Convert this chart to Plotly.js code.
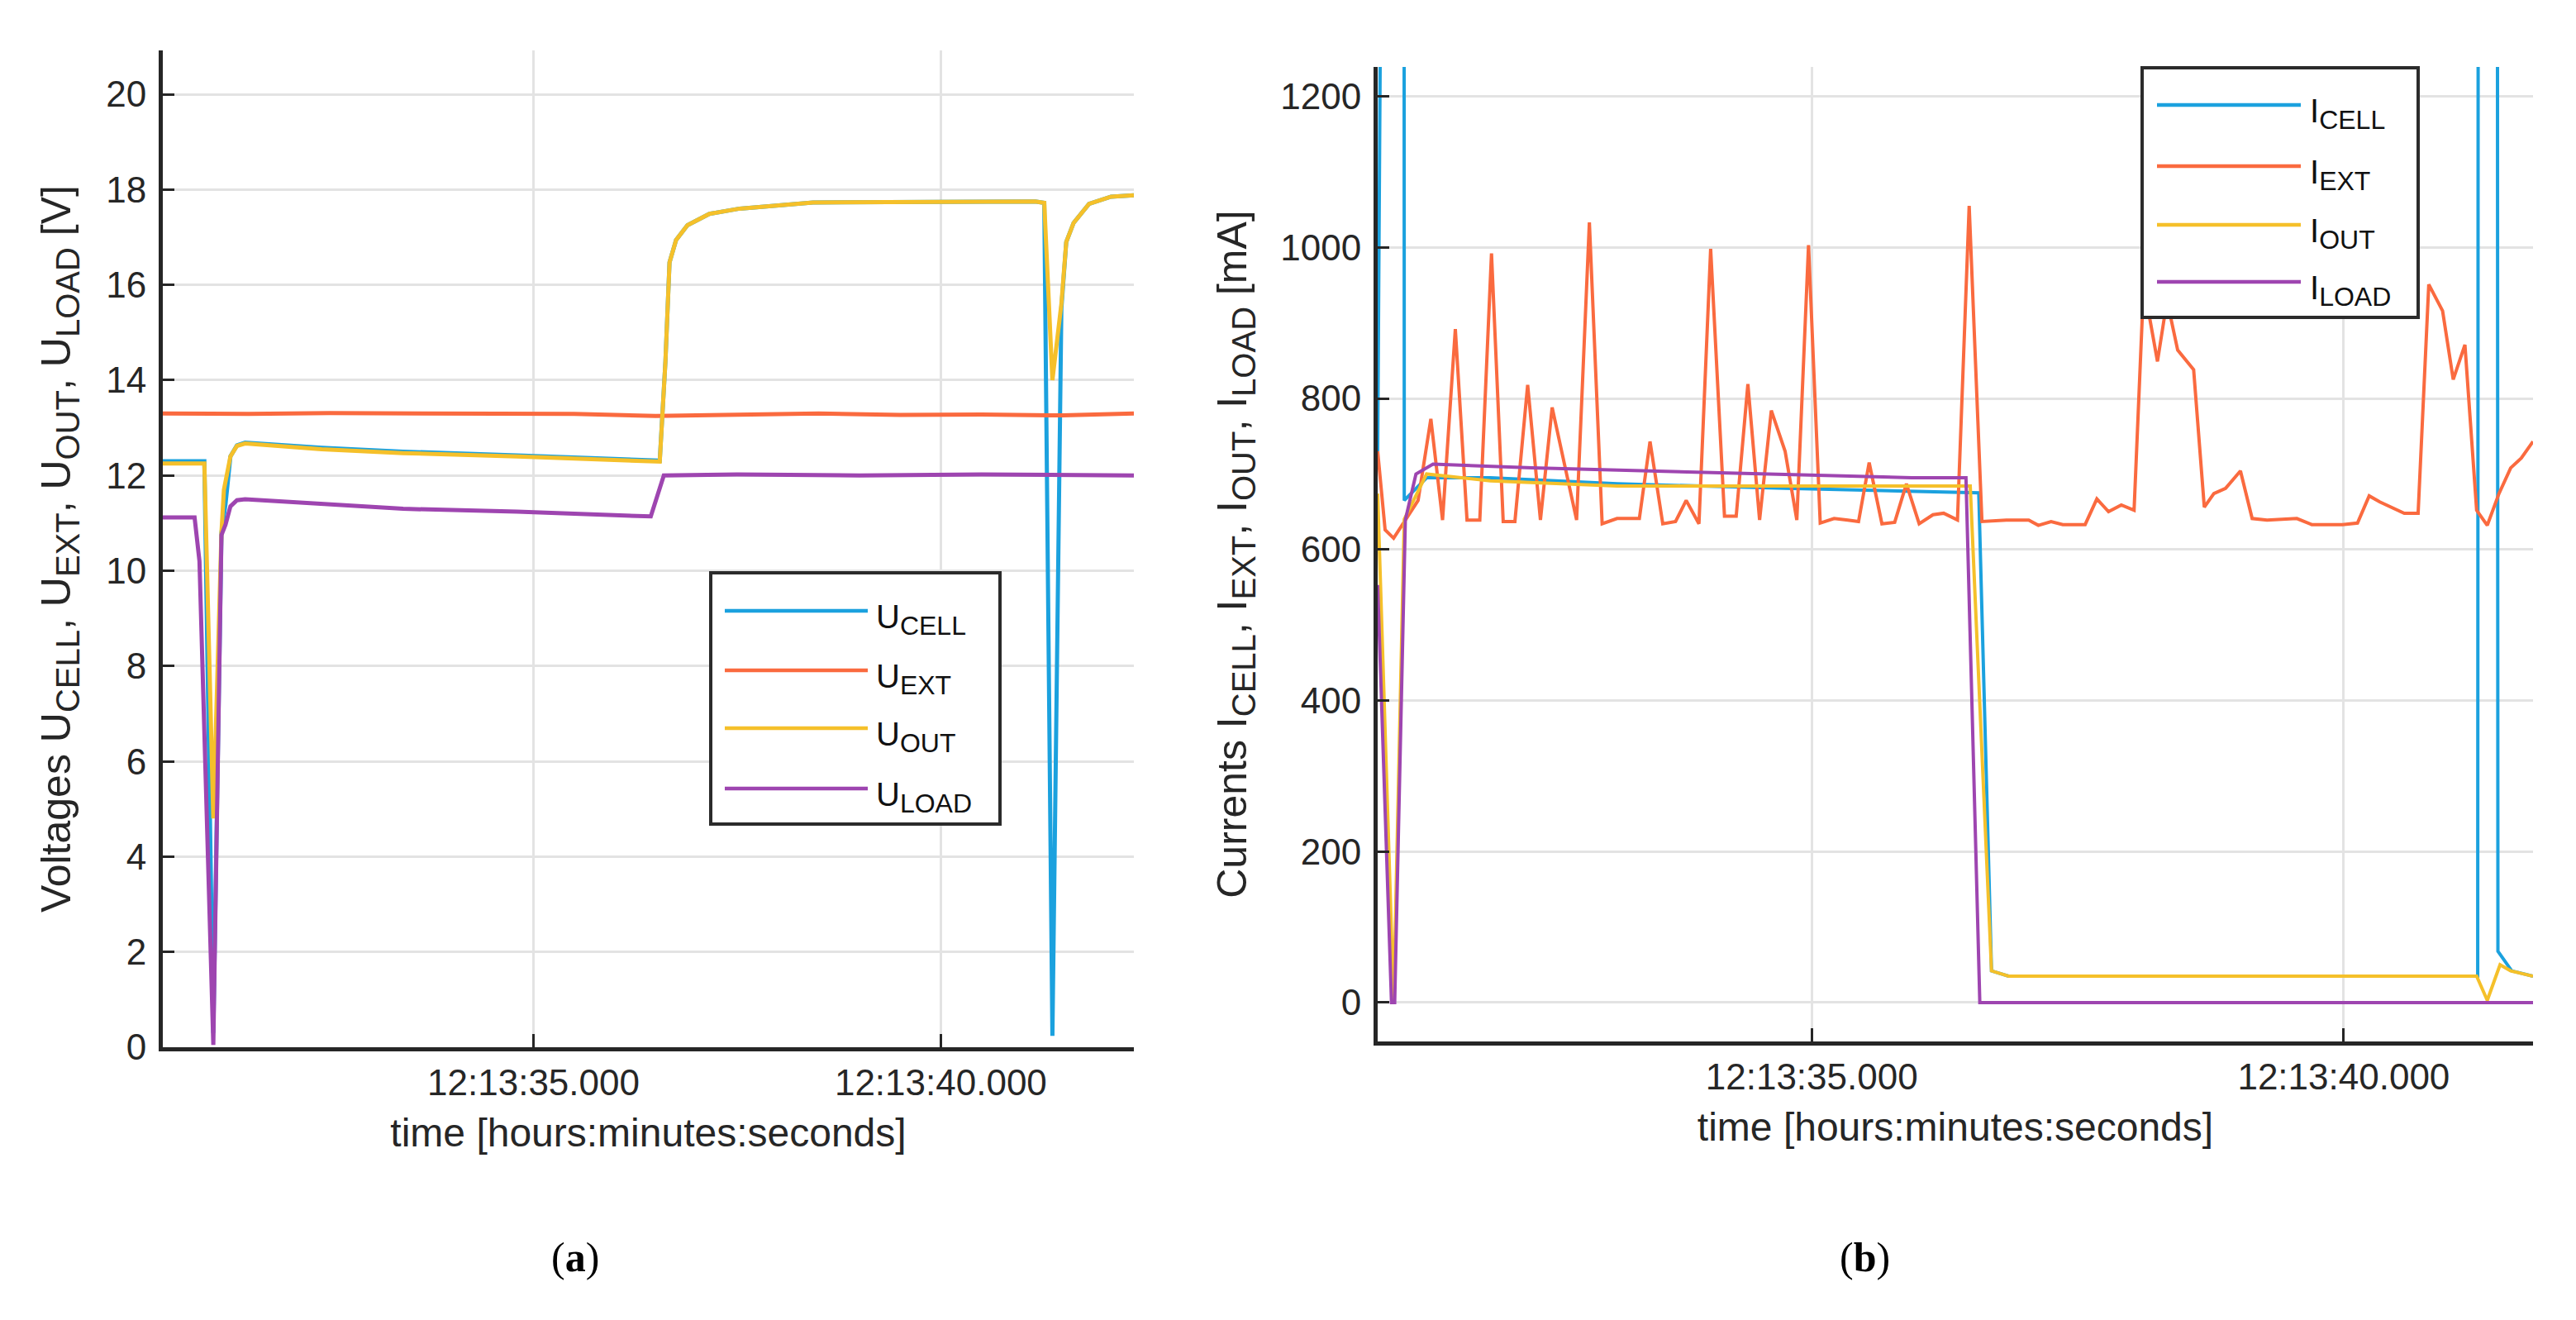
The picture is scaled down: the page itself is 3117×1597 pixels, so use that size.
<!DOCTYPE html>
<html>
<head>
<meta charset="utf-8">
<script src="https://cdn.plot.ly/plotly-3.0.1.min.js"></script>
<style>
html,body{margin:0;padding:0;background:#ffffff;}
#chart{width:3117px;height:1597px;}
</style>
</head>
<body>
<div id="chart"></div>
<script>
// ---------- (a) voltages, time in seconds after 12:13:00 ----------
const uCellT = [30.45, 30.96, 31.07, 31.17, 31.22, 31.28, 31.36, 31.46, 32.40, 33.40, 34.80, 35.80, 36.55, 36.62, 36.67, 36.75, 36.89, 37.16, 37.53, 38.43, 39.80, 41.16, 41.27, 41.37, 41.48, 41.54, 41.63, 41.82, 42.09, 42.37];
const uCellV = [12.30, 12.30, 0.30, 10.80, 11.40, 12.40, 12.63, 12.69, 12.58, 12.50, 12.42, 12.36, 12.31, 14.40, 16.47, 16.94, 17.25, 17.49, 17.60, 17.73, 17.75, 17.75, 17.72, 0.24, 15.50, 16.90, 17.30, 17.70, 17.85, 17.88];

const uExtT = [30.45, 31.50, 32.50, 33.50, 34.50, 35.50, 36.50, 37.50, 38.50, 39.50, 40.50, 41.50, 42.37];
const uExtV = [13.30, 13.29, 13.31, 13.30, 13.28, 13.29, 13.25, 13.28, 13.30, 13.27, 13.28, 13.26, 13.30];

const uOutT = [30.45, 30.96, 31.07, 31.17, 31.20, 31.28, 31.36, 31.46, 32.40, 33.40, 34.80, 35.80, 36.55, 36.62, 36.67, 36.75, 36.89, 37.16, 37.53, 38.43, 39.80, 41.16, 41.27, 41.37, 41.48, 41.54, 41.63, 41.82, 42.09, 42.37];
const uOutV = [12.25, 12.25, 4.80, 10.80, 11.70, 12.40, 12.62, 12.67, 12.55, 12.47, 12.40, 12.34, 12.29, 14.40, 16.47, 16.94, 17.25, 17.49, 17.60, 17.73, 17.75, 17.75, 17.72, 14.00, 15.60, 16.90, 17.30, 17.70, 17.85, 17.88];

const uLoadT = [30.45, 30.84, 30.90, 31.07, 31.17, 31.22, 31.28, 31.36, 31.46, 32.40, 33.40, 34.80, 36.44, 36.60, 37.50, 39.00, 40.50, 42.37];
const uLoadV = [11.12, 11.12, 10.20, 0.05, 10.75, 10.97, 11.35, 11.48, 11.50, 11.40, 11.30, 11.24, 11.14, 12.00, 12.02, 12.00, 12.02, 12.00];

// ---------- (b) currents in mA ----------
const iCellT = [30.92, 30.96, 31.06, 31.16, 31.17, 31.38, 31.98, 33.17, 34.75, 36.57, 36.69, 36.85, 38.00, 39.50, 41.26, 41.28, 41.35, 41.43, 41.45, 41.58, 41.78];
const iCellV = [730, 6000, 6000, 6000, 665, 695, 695, 687, 681, 675, 42, 35, 35, 35, 35, 6000, 6000, 6000, 68, 42, 35];

const iExtT = [30.92, 30.99, 31.07, 31.16, 31.30, 31.42, 31.53, 31.65, 31.76, 31.88, 31.99, 32.10, 32.21, 32.33, 32.45, 32.56, 32.79, 32.91, 33.03, 33.17, 33.38, 33.48, 33.60, 33.72, 33.82, 33.94, 34.05, 34.18, 34.29, 34.40, 34.51, 34.62, 34.75, 34.86, 34.97, 35.08, 35.21, 35.34, 35.44, 35.54, 35.66, 35.78, 35.89, 36.01, 36.14, 36.24, 36.37, 36.48, 36.60, 36.83, 37.04, 37.13, 37.25, 37.36, 37.57, 37.68, 37.79, 37.91, 38.03, 38.12, 38.25, 38.34, 38.44, 38.59, 38.69, 38.78, 38.89, 39.03, 39.14, 39.28, 39.56, 39.70, 39.99, 40.13, 40.24, 40.34, 40.45, 40.57, 40.70, 40.80, 40.93, 41.03, 41.14, 41.25, 41.35, 41.46, 41.57, 41.67, 41.78];
const iExtV = [730, 626, 615, 635, 665, 773, 639, 892, 639, 639, 992, 637, 637, 818, 639, 788, 639, 1033, 634, 641, 641, 743, 634, 637, 665, 634, 998, 644, 644, 819, 639, 784, 730, 639, 1003, 635, 641, 639, 637, 715, 634, 636, 687, 634, 646, 648, 639, 1055, 637, 639, 639, 632, 637, 633, 633, 667, 650, 659, 652, 951, 849, 930, 864, 838, 656, 674, 681, 704, 641, 639, 641, 633, 633, 635, 671, 663, 656, 648, 648, 951, 916, 825, 871, 652, 632, 674, 708, 721, 743];

const iOutT = [30.92, 31.07, 31.17, 31.38, 31.98, 33.17, 34.75, 36.45, 36.49, 36.69, 36.85, 38.50, 40.00, 41.25, 41.35, 41.47, 41.57, 41.78];
const iOutV = [674, 0, 640, 700, 691, 684, 684, 684, 684, 42, 35, 35, 35, 35, 3, 50, 42, 35];

const iLoadT = [30.92, 31.05, 31.08, 31.18, 31.28, 31.44, 32.37, 33.56, 34.75, 35.94, 36.45, 36.58, 38.00, 40.00, 41.78];
const iLoadV = [553, 0, 0, 639, 700, 713, 708, 704, 700, 695, 695, 0, 0, 0, 0];

const subU = ['CELL', 'EXT', 'OUT', 'LOAD'];
const colors = ['#1ba1de', '#fa6a3f', '#f5c02a', '#9e45b0'];

// ---------- helpers ----------
const W = 3117, H = 1597;
const px = x => x / W;
const py = y => 1 - y / H;
const toDate = s => '2020-01-01 12:13:' + s.toFixed(3);
const FONT = 'Liberation Sans, Arial, Helvetica, sans-serif';
const TXT = '#262626';
const sub = (letter, s, size) => letter + '<sub><span style="font-size:' + size + 'px">' + s + '</span></sub>';

function tr(t, v, i, xa, ya, name, w) {
  return {
    x: t.map(toDate), y: v, xaxis: xa, yaxis: ya, name: name,
    type: 'scatter', mode: 'lines', showlegend: false, hoverinfo: 'skip',
    line: {color: colors[i], width: w}
  };
}

const data = [
  tr(uCellT, uCellV, 0, 'x', 'y', 'U CELL', 5),
  tr(uExtT, uExtV, 1, 'x', 'y', 'U EXT', 5),
  tr(uOutT, uOutV, 2, 'x', 'y', 'U OUT', 5),
  tr(uLoadT, uLoadV, 3, 'x', 'y', 'U LOAD', 5),
  tr(iCellT, iCellV, 0, 'x2', 'y2', 'I CELL', 4),
  tr(iExtT, iExtV, 1, 'x2', 'y2', 'I EXT', 4),
  tr(iOutT, iOutV, 2, 'x2', 'y2', 'I OUT', 4),
  tr(iLoadT, iLoadV, 3, 'x2', 'y2', 'I LOAD', 4)
];

function xAxis(dom, r0, r1, anchor) {
  return {
    domain: dom, anchor: anchor, type: 'date',
    range: [toDate(r0), toDate(r1)],
    tickmode: 'linear', tick0: '2020-01-01 12:13:35', dtick: 5000,
    tickformat: '%H:%M:%S.%L',
    ticks: 'inside', ticklen: 16, tickwidth: 3, tickcolor: TXT,
    showline: true, linecolor: TXT, linewidth: 5,
    showgrid: true, gridcolor: '#e3e3e3', gridwidth: 3, zeroline: false,
    tickfont: {family: FONT, size: 44, color: TXT},
    ticklabelstandoff: 0,
    title: {text: 'time [hours:minutes:seconds]', font: {family: FONT, size: 48, color: TXT}, standoff: 22},
    automargin: false, fixedrange: true
  };
}
function yAxis(dom, range, dtick, anchor, title, standoff) {
  return {
    domain: dom, anchor: anchor, range: range, tick0: 0, dtick: dtick,
    ticks: 'inside', ticklen: 14, tickwidth: 3, tickcolor: TXT,
    showline: true, linecolor: TXT, linewidth: 5,
    showgrid: true, gridcolor: '#e3e3e3', gridwidth: 3, zeroline: false,
    tickfont: {family: FONT, size: 44, color: TXT},
    ticklabelstandoff: 6,
    title: {text: title, font: {family: FONT, size: 50, color: TXT}, standoff: standoff},
    automargin: false, fixedrange: true
  };
}

// ---------- custom legends (long line samples as in the original) ----------
const shapes = [];
const annotations = [];
function legend(box, lineX0, lineX1, textX, ys, letter) {
  shapes.push({type: 'rect', xref: 'paper', yref: 'paper', layer: 'above',
    x0: px(box[0]), x1: px(box[1]), y0: py(box[3]), y1: py(box[2]),
    fillcolor: '#ffffff', line: {color: '#2b2b2b', width: 4}});
  ys.forEach((y, i) => {
    shapes.push({type: 'line', xref: 'paper', yref: 'paper', layer: 'above',
      x0: px(lineX0), x1: px(lineX1), y0: py(y), y1: py(y),
      line: {color: colors[i], width: 4.5}});
    annotations.push({xref: 'paper', yref: 'paper', x: px(textX), y: py(y + 10),
      xanchor: 'left', yanchor: 'middle', showarrow: false, text: sub(letter, subU[i], 32),
      font: {family: FONT, size: 40, color: '#111111'}});
  });
}
legend([860, 1210, 693, 997], 877, 1050, 1058, [739, 811, 881, 954], 'U');
legend([2592, 2926, 82, 384], 2610, 2784, 2793, [127, 201, 272, 341], 'I');

annotations.push({xref: 'paper', yref: 'paper', x: px(696), y: py(1521), xanchor: 'center', yanchor: 'middle',
  showarrow: false, text: '(<b>a</b>)', font: {family: 'Liberation Serif, Times New Roman, serif', size: 50, color: '#000'}});
annotations.push({xref: 'paper', yref: 'paper', x: px(2256), y: py(1521), xanchor: 'center', yanchor: 'middle',
  showarrow: false, text: '(<b>b</b>)', font: {family: 'Liberation Serif, Times New Roman, serif', size: 50, color: '#000'}});

const uTitle = 'Voltages ' + subU.map(s => sub('U', s, 40)).join(', ') + ' [V]';
const iTitle = 'Currents ' + subU.map(s => sub('I', s, 40)).join(', ') + ' [mA]';

const layout = {
  width: W, height: H,
  margin: {l: 0, r: 0, t: 0, b: 0, pad: 0},
  paper_bgcolor: '#ffffff', plot_bgcolor: '#ffffff',
  showlegend: false,
  font: {family: FONT, color: TXT},
  xaxis: xAxis([px(197), px(1372)], 30.45, 42.37, 'y'),
  yaxis: yAxis([py(1267), py(61)], [0, 20.92], 2, 'x', uTitle, 28),
  xaxis2: xAxis([px(1667), px(3065)], 30.92, 41.78, 'y2'),
  yaxis2: yAxis([py(1260), py(81)], [-51.5, 1239], 200, 'x2', iTitle, 26),
  shapes: shapes,
  annotations: annotations
};

Plotly.newPlot('chart', data, layout, {staticPlot: true, displayModeBar: false});
</script>
</body>
</html>
